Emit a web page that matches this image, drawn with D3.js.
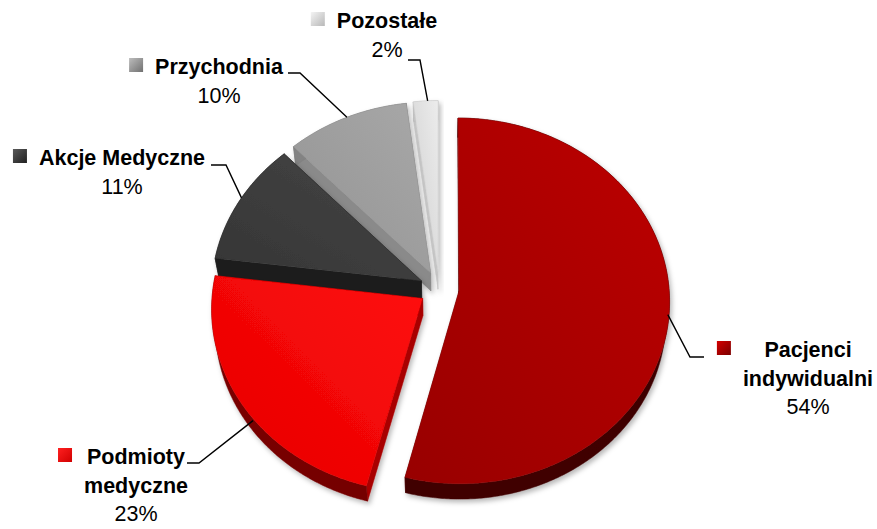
<!DOCTYPE html>
<html>
<head>
<meta charset="utf-8">
<script src="https://cdn.jsdelivr.net/npm/d3@7"></script>
<style>
  html, body { margin: 0; padding: 0; background: #ffffff; }
  svg { display: block; }
  text { font-family: "Liberation Sans", Arial, sans-serif; fill: #000; }
</style>
</head>
<body>
<svg id="chart" width="877" height="529"></svg>
<script>
// ---------- data ----------
const categories = ["Pacjenci indywidualni", "Podmioty medyczne", "Akcje Medyczne", "Przychodnia", "Pozostałe"];
const values = [54, 23, 11, 10, 2];
const percentLabels = ["54%", "23%", "11%", "10%", "2%"];
const nameLines = [["Pacjenci", "indywidualni"], ["Podmioty", "medyczne"], ["Akcje Medyczne"], ["Przychodnia"], ["Pozostałe"]];

// ---------- styles ----------
const topColors = [["#bd0000", "#980000"], ["#ff0d0d", "#e60000"], ["#454545", "#353535"], ["#a8a8a8", "#939393"], ["#ececec", "#cfcfcf"]];
const wallColors = ["#3e0000", "#740000", "#1b1b1b", "#7c7c7c", "#bdbdbd"];
const radialColors = ["#5a0000", "#a80000", "#1c1c1c", "#8a8a8a", "#c8c8c8"];
const swatch = [["#d40000", "#7a0000"], ["#ff2020", "#d00000"], ["#5a5a5a", "#202020"], ["#bdbdbd", "#707070"], ["#f4f4f4", "#b8b8b8"]];

// ---------- layout ----------
const W = 877, H = 529;
const R = 210, explode = 20, depth = 36;
const sinP = 0.867, cosP = 0.498, Dcam = 1909;
const cx = 439.2, cy = 288.7;
const labelCenters = [[808, 357], [136, 464], [122, 165], [219, 74], [387, 28]];
const lineGap = 28.5;
const leaderElbows = [[[704, 357], [690, 357]], [[187, 463], [199, 463]], [[211, 165], [226, 165]], [[288, 73], [300, 73]], [[408, 60], [420, 60]]];
const anchorAngles = [95, 231, 298, 335, 357];
const anchorHeights = [-16, -6, 0, 0, 0];

const svg = d3.select("#chart");
const defs = svg.append("defs");

const filt = defs.append("filter").attr("id", "shadow").attr("x", "-10%").attr("y", "-10%").attr("width", "130%").attr("height", "130%");
filt.append("feDropShadow").attr("dx", 2).attr("dy", 3).attr("stdDeviation", 2.5).attr("flood-color", "#000").attr("flood-opacity", 0.28);

function proj(X, Z, h) {
  const s = Dcam / (Dcam - Z * cosP - h * sinP);
  return [cx + X * s, cy + (Z * sinP - h * cosP) * s];
}

const pie = d3.pie().sort(null).value(d => d);
const arcs = pie(values).map((a, i) => {
  const mid = (a.startAngle + a.endAngle) / 2;
  return { ...a, i, offX: explode * Math.sin(mid), offZ: -explode * Math.cos(mid) };
});

function pt(a, theta, r, h) {
  return proj(a.offX + r * Math.sin(theta), a.offZ - r * Math.cos(theta), h);
}
function arcPoints(a, h, reverse) {
  const n = Math.max(4, Math.ceil((a.endAngle - a.startAngle) / 0.01));
  const t = d3.scaleLinear().domain([0, n]).range([a.startAngle, a.endAngle]);
  const pts = d3.range(n + 1).map(k => pt(a, t(k), R, h));
  return reverse ? pts.reverse() : pts;
}

const closed = d3.line().curve(d3.curveLinearClosed);

// gradients
arcs.forEach(a => {
  const g = defs.append("linearGradient").attr("id", "top" + a.i)
    .attr("x1", "100%").attr("y1", "0%").attr("x2", "0%").attr("y2", "100%");
  g.append("stop").attr("offset", "0%").attr("stop-color", topColors[a.i][0]);
  g.append("stop").attr("offset", "100%").attr("stop-color", topColors[a.i][1]);
  const w = defs.append("linearGradient").attr("id", "wall" + a.i)
    .attr("x1", "0%").attr("y1", "0%").attr("x2", "100%").attr("y2", "0%");
  w.append("stop").attr("offset", "0%").attr("stop-color", d3.color(wallColors[a.i]).brighter(0.15));
  w.append("stop").attr("offset", "100%").attr("stop-color", wallColors[a.i]);
  const sw = defs.append("linearGradient").attr("id", "sw" + a.i)
    .attr("x1", "0%").attr("y1", "0%").attr("x2", "100%").attr("y2", "100%");
  sw.append("stop").attr("offset", "0%").attr("stop-color", swatch[a.i][0]);
  sw.append("stop").attr("offset", "100%").attr("stop-color", swatch[a.i][1]);
});

// draw slices far -> near
const order = arcs.slice().sort((p, q) => p.offZ - q.offZ);
const pieG = svg.append("g").attr("class", "pie");
order.forEach(a => {
  const g = pieG.append("g").attr("filter", "url(#shadow)");
  const c0 = pt(a, 0, 0, 0), c1 = pt(a, 0, 0, -depth);
  // radial walls
  [a.startAngle, a.endAngle].forEach(th => {
    const quad = [c0, pt(a, th, R, 0), pt(a, th, R, -depth), c1];
    g.append("path").attr("d", closed(quad)).attr("fill", radialColors[a.i])
      .attr("stroke", radialColors[a.i]).attr("stroke-width", 0.5);
  });
  // outer wall
  const wallPts = arcPoints(a, 0, false).concat(arcPoints(a, -depth, true));
  g.append("path").attr("d", closed(wallPts)).attr("fill", "url(#wall" + a.i + ")")
    .attr("stroke", wallColors[a.i]).attr("stroke-width", 0.5);
  // top face
  const topPts = [c0].concat(arcPoints(a, 0, false));
  g.append("path").attr("d", closed(topPts)).attr("fill", "url(#top" + a.i + ")")
    .attr("stroke", topColors[a.i][1]).attr("stroke-width", 0.4);
});

// leader lines
const leaderLine = d3.line();
arcs.forEach(a => {
  const anchor = pt(a, anchorAngles[a.i] * Math.PI / 180, R, anchorHeights[a.i]);
  const pts = leaderElbows[a.i].concat([anchor]);
  svg.append("path").attr("d", leaderLine(pts)).attr("fill", "none")
    .attr("stroke", "#000").attr("stroke-width", 1.4);
});

// labels
arcs.forEach(a => {
  const [lx, ly] = labelCenters[a.i];
  const g = svg.append("g");
  let maxW = 0;
  nameLines[a.i].forEach((ln, k) => {
    const t = g.append("text").attr("x", lx).attr("y", ly + k * lineGap)
      .attr("text-anchor", "middle").attr("font-size", "21.5px").attr("font-weight", "bold").text(ln);
    maxW = Math.max(maxW, t.node().getComputedTextLength());
  });
  g.append("text").attr("x", lx).attr("y", ly + nameLines[a.i].length * lineGap)
    .attr("text-anchor", "middle").attr("font-size", "21.5px").text(percentLabels[a.i]);
  g.append("rect").attr("x", lx - maxW / 2 - 26).attr("y", ly - 16).attr("width", 14).attr("height", 14)
    .attr("fill", "url(#sw" + a.i + ")");
});
</script>
</body>
</html>
